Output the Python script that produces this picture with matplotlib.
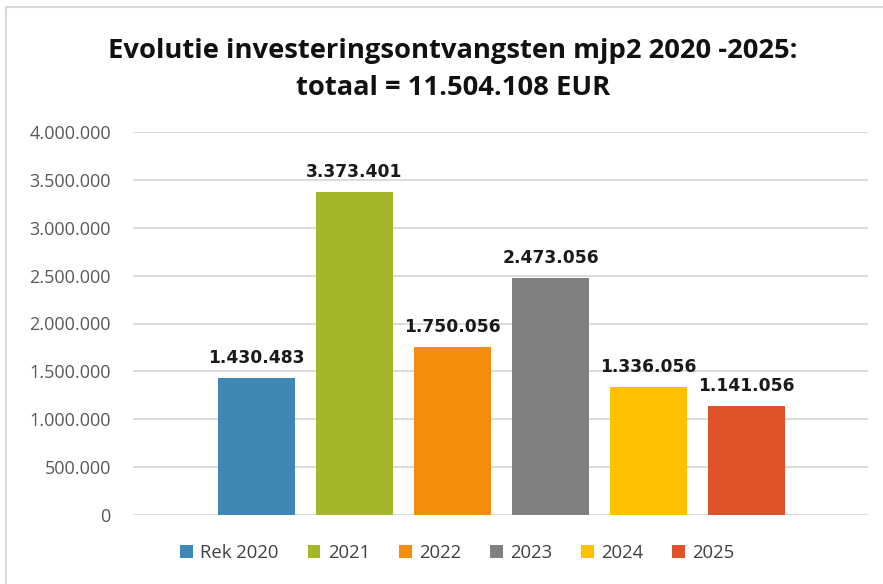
import matplotlib
matplotlib.use("Agg")
import matplotlib.pyplot as plt
from matplotlib.lines import Line2D
from matplotlib.patches import Patch

series = ["Rek 2020", "2021", "2022", "2023", "2024", "2025"]
values = [1430483, 3373401, 1750056, 2473056, 1336056, 1141056]
value_labels = ["1.430.483", "3.373.401", "1.750.056", "2.473.056", "1.336.056", "1.141.056"]
colors = ["#3F87B4", "#A5B52A", "#F28E0C", "#808080", "#FFC000", "#E0532A"]
yticks = [0, 500000, 1000000, 1500000, 2000000, 2500000, 3000000, 3500000, 4000000]
ytick_labels = ["0", "500.000", "1.000.000", "1.500.000", "2.000.000", "2.500.000",
                "3.000.000", "3.500.000", "4.000.000"]
title = "Evolutie investeringsontvangsten mjp2 2020 -2025:\ntotaal = 11.504.108 EUR"

plt.rcParams['font.family'] = ['Open Sans', 'DejaVu Sans']

fig = plt.figure(figsize=(8.83, 5.84), dpi=100)
ax = fig.add_axes([133/883, 1-515/584, 735/883, (515-132)/584])

n = len(series)
for i, (s, v, c, lab) in enumerate(zip(series, values, colors, value_labels)):
    x = i - (n - 1) / 2
    ax.bar(x, v, width=0.79, color=c, zorder=3)
    ax.text(x, v + 115000, lab, ha="center", va="bottom", fontsize=12.3,
            fontweight="bold", color="#1a1a1a", zorder=4, family="DejaVu Sans")

ax.set_xlim(-2.5 - 1.26, -2.5 - 1.26 + 735/98)
ax.set_ylim(0, 4000000)
ax.set_yticks(yticks)
ax.set_yticklabels(ytick_labels, color="#595959", fontsize=13)
ax.set_xticks([])
ax.tick_params(axis="y", length=0, pad=16)
ax.grid(axis="y", color="#D9D9D9", linewidth=1.3, zorder=0)
for sp in ax.spines.values():
    sp.set_visible(False)

fig.text(0.513, 0.881, title, ha="center", va="center", fontsize=19.7,
         fontweight="bold", color="#111111", linespacing=1.55)

handles = [Patch(facecolor=c, label=s) for s, c in zip(series, colors)]
fig.legend(handles=handles, loc="center", bbox_to_anchor=(0.518, 1-553/584), ncol=6,
           frameon=False, fontsize=13.3, handlelength=0.7, handleheight=0.7,
           handletextpad=0.4, columnspacing=1.55, labelcolor="#404040")

fig.add_artist(Line2D([6/883, 6/883], [0, 1-7/584], color="#D9D9D9", linewidth=1.5))
fig.add_artist(Line2D([6/883, 1], [1-7/584, 1-7/584], color="#D9D9D9", linewidth=1.5))

fig.savefig("out.png", dpi=100)
